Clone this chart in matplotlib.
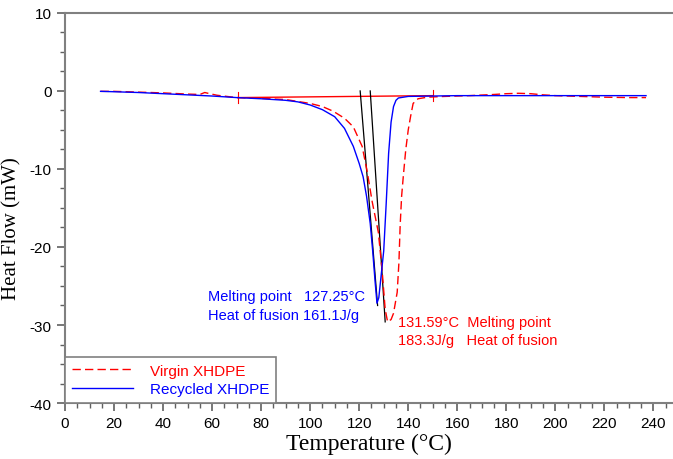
import matplotlib.pyplot as plt
from matplotlib.ticker import MultipleLocator

plt.rcParams['axes.unicode_minus'] = False

# DSC curves
virgin_t = [14.5, 20, 30, 40, 50, 55, 57, 59, 62, 70, 80, 90, 96, 100, 105, 109.4,
            114, 117.6, 121.2, 123.3, 125.3, 127.8, 129.4, 130.6, 131.59, 133, 134,
            135.5, 136.2, 136.7, 137.3, 138, 139, 140, 141, 142, 144, 147.8, 155,
            165, 175, 180, 185, 190, 195, 200, 210, 220, 230, 237]
virgin_h = [-0.05, -0.05, -0.15, -0.25, -0.4, -0.45, -0.2, -0.35, -0.55, -0.85,
            -0.95, -1.1, -1.4, -1.6, -2.0, -2.6, -3.5, -4.6, -7.1, -10.4, -14.2,
            -18.1, -23.2, -28.0, -29.6, -29.3, -28.5, -25.8, -22.0, -17.3, -13.5,
            -10.9, -7.5, -5.0, -3.2, -1.6, -1.0, -0.8, -0.7, -0.6, -0.45, -0.35,
            -0.3, -0.35, -0.5, -0.6, -0.7, -0.8, -0.85, -0.85]

recycled_t = [14.5, 20, 30, 40, 50, 60, 70, 80, 90, 95, 100, 105, 110, 114, 117.6,
              120, 121.6, 123, 124.5, 125.5, 126.5, 127.25, 128, 129, 130, 131, 132,
              133, 134, 135, 136, 138, 140, 150, 160, 170, 180, 190, 200, 210, 220,
              230, 237]
recycled_h = [-0.05, -0.1, -0.2, -0.35, -0.5, -0.65, -0.85, -1.0, -1.2, -1.4, -1.8,
              -2.4, -3.3, -4.8, -7.1, -9.3, -11.0, -13.5, -17.0, -20.5, -24.5, -27.2,
              -26.5, -23.5, -20.5, -14.5, -8.0, -4.0, -2.0, -1.2, -0.9, -0.8, -0.7,
              -0.65, -0.6, -0.6, -0.6, -0.6, -0.6, -0.6, -0.6, -0.6, -0.6]

# integration baseline of the virgin sample and the onset tangents
base_t = [70.6, 150]
base_h = [-0.85, -0.6]
tangent1_t = [120.4, 127.5]
tangent1_h = [0, -27.5]
tangent2_t = [124.5, 130.6]
tangent2_h = [0, -29.6]

fig = plt.figure(figsize=(6.73, 4.6), dpi=100)
ax = fig.add_axes([0.0966, 0.1217, 0.9034, 0.848])

ax.plot(base_t, base_h, color='red', lw=1)
for t, h in zip(base_t, base_h):
    ax.plot([t, t], [h + 0.7, h - 0.7], color='red', lw=0.8)
ax.plot(tangent1_t, tangent1_h, color='black', lw=0.9)
ax.plot(tangent2_t, tangent2_h, color='black', lw=0.9)

ax.plot(virgin_t, virgin_h, color='red', ls=(0, (6, 3)), lw=1,
        label='Virgin XHDPE')
ax.plot(recycled_t, recycled_h, color='blue', lw=1, label='Recycled XHDPE')

ax.text(58.4, -26.3, 'Melting point   127.25°C', color='blue', fontsize=10.5,
        family='Liberation Sans', va='center')
ax.text(58.4, -28.7, 'Heat of fusion 161.1J/g', color='blue', fontsize=10.5,
        family='Liberation Sans', va='center')
ax.text(135.8, -29.6, '131.59°C  Melting point', color='red', fontsize=10.5,
        family='Liberation Sans', va='center')
ax.text(135.8, -31.9, '183.3J/g   Heat of fusion', color='red', fontsize=10.5,
        family='Liberation Sans', va='center')

ax.set_xlim(0, 248)
ax.set_ylim(-40, 10)
ax.xaxis.set_major_locator(MultipleLocator(20))
ax.xaxis.set_minor_locator(MultipleLocator(5))
ax.yaxis.set_major_locator(MultipleLocator(10))
ax.yaxis.set_minor_locator(MultipleLocator(2.5))

for side in ['left', 'bottom', 'top']:
    ax.spines[side].set_color('#808080')
    ax.spines[side].set_linewidth(1.5)
ax.spines['right'].set_visible(False)
ax.tick_params(which='both', direction='out', color='#606060', top=False, right=False)
ax.tick_params(which='major', length=6, width=1.2, labelsize=11)
ax.tick_params(which='minor', length=3.5, width=1)
for lab in ax.get_xticklabels() + ax.get_yticklabels():
    lab.set_family('Liberation Sans')

ax.set_xlabel('Temperature (°C)', family='Liberation Serif', fontsize=17, labelpad=2)
ax.set_ylabel('Heat Flow (mW)', family='Liberation Serif', fontsize=15)
ax.yaxis.set_label_coords(-0.072, 0.45)

leg = ax.legend(loc='lower left', bbox_to_anchor=(0, 0), borderaxespad=0,
                fancybox=False, edgecolor='#808080', handlelength=4,
                prop={'family': 'Liberation Sans', 'size': 11},
                borderpad=0.45, labelspacing=0.3, handletextpad=1.1)
leg.get_frame().set_linewidth(1.2)
leg.get_frame().set_alpha(1)
for txt, col in zip(leg.get_texts(), ['red', 'blue']):
    txt.set_color(col)

fig.savefig('out.png', dpi=100)
